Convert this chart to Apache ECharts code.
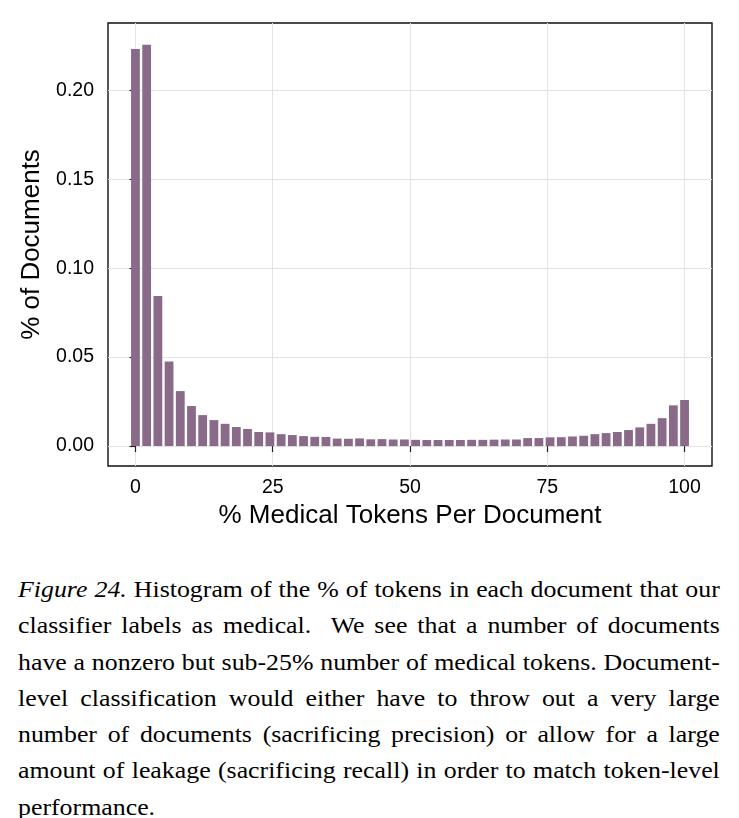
<!DOCTYPE html>
<html>
<head>
<meta charset="utf-8">
<script src="https://cdn.jsdelivr.net/npm/echarts@6/dist/echarts.min.js"></script>
<style>
  body { margin: 0; background: #fff; }
  #page { position: relative; width: 739px; height: 818px; }
  #chart { position: absolute; left: 0; top: 0; width: 739px; height: 540px; }
  #caption {
    position: absolute; left: 18px; top: 571px; width: 638px;
    transform: scaleX(1.1); transform-origin: left top;
    font-family: 'Liberation Serif', 'Times New Roman', serif;
    font-size: 23.5px; line-height: 36.3px; color: #000;
  }
  #caption div { text-align: justify; text-align-last: justify; white-space: nowrap; }
  #caption div.last { text-align-last: left; }
</style>
</head>
<body>
<div id="page">
  <div id="chart"></div>
  <div id="caption">
    <div><i>Figure 24.</i> Histogram of the % of tokens in each document that our</div>
    <div>classifier labels as medical.&nbsp; We see that a number of documents</div>
    <div>have a nonzero but sub-25% number of medical tokens. Document-</div>
    <div>level classification would either have to throw out a very large</div>
    <div>number of documents (sacrificing precision) or allow for a large</div>
    <div>amount of leakage (sacrificing recall) in order to match token-level</div>
    <div class="last">performance.</div>
  </div>
</div>
<script>
// 50 histogram bins, centred from 0 to 100
var binCount = 50;
var binCenters = [];
for (var i = 0; i < binCount; i++) binCenters.push(i * 100 / (binCount - 1));

// share of documents in each bin
var docShare = [
    0.2232, 0.2256, 0.0843, 0.0476, 0.0309, 0.0225, 0.0174, 0.0146, 0.0125, 0.0107,
    0.0096, 0.0079, 0.0077, 0.0067, 0.0062, 0.0056, 0.0052, 0.0051, 0.0042, 0.0041,
    0.0043, 0.0038, 0.0039, 0.0037, 0.0037, 0.0035, 0.0034, 0.0034, 0.0034, 0.0034,
    0.0035, 0.0035, 0.0036, 0.0037, 0.0037, 0.0045, 0.0045, 0.0049, 0.0050, 0.0054,
    0.0058, 0.0067, 0.0073, 0.0079, 0.0090, 0.0105, 0.0125, 0.0157, 0.0229, 0.0259
];

var xTicks = [0, 25, 50, 75, 100];
var yTicks = [0, 0.05, 0.10, 0.15, 0.20];

document.addEventListener('DOMContentLoaded', function () {
    var myChart = echarts.init(document.getElementById('chart'));
    var font = "'Liberation Sans', Arial, Helvetica, sans-serif";

    var barData = binCenters.map(function (x, i) { return [x, docShare[i]]; });

    var option = {
        animation: false,
        grid: {
            left: 108, right: 27, top: 23, height: 443,
            show: true, borderColor: '#111', borderWidth: 1.4,
            backgroundColor: 'transparent'
        },
        xAxis: {
            type: 'value',
            min: -5, max: 105,
            name: '% Medical Tokens Per Document',
            nameLocation: 'middle',
            nameGap: 36,
            nameTextStyle: { fontFamily: font, fontSize: 26, color: '#000' },
            axisLine: { show: false },
            axisTick: { show: true, length: 6, customValues: xTicks, lineStyle: { color: '#222', width: 1.2 } },
            axisLabel: { customValues: xTicks, fontFamily: font, fontSize: 19.5, color: '#000', margin: 12 },
            splitLine: { show: true, lineStyle: { color: '#e3e3e3', width: 1 } }
        },
        yAxis: {
            type: 'value',
            min: -0.0112, max: 0.2378,
            name: '% of Documents',
            nameLocation: 'middle',
            nameGap: 60,
            nameRotate: 90,
            nameTextStyle: { fontFamily: font, fontSize: 26, color: '#000' },
            axisLine: { show: false },
            axisTick: { show: true, length: 6, customValues: yTicks, lineStyle: { color: '#222', width: 1.2 } },
            axisLabel: {
                customValues: yTicks, fontFamily: font, fontSize: 19.5, color: '#000', margin: 14,
                formatter: function (v) { return v.toFixed(2); }
            },
            splitLine: { show: true, lineStyle: { color: '#e3e3e3', width: 1 } }
        },
        series: [
            {
                type: 'bar',
                data: barData,
                barWidth: 8.8,
                itemStyle: { color: '#896b89' }
            }
        ]
    };

    myChart.setOption(option);
});
</script>
</body>
</html>
